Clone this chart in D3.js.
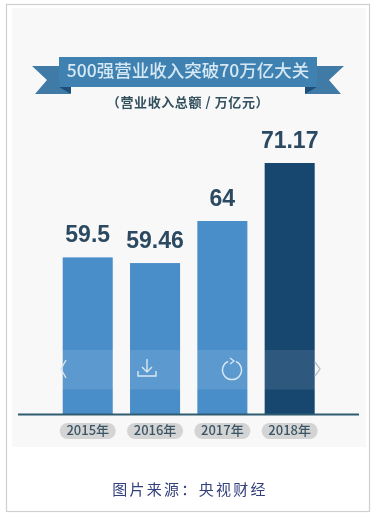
<!DOCTYPE html>
<html><head><meta charset="utf-8">
<script src="https://cdn.jsdelivr.net/npm/d3@7/dist/d3.min.js"></script>
<style>html,body{margin:0;padding:0;background:#fff}svg{display:block;filter:blur(.45px)}</style>
</head><body><svg id="c" width="376" height="519"></svg>
<script>
const categories = ["2015年","2016年","2017年","2018年"];
const valueLabels = ["59.5","59.46","64","71.17"];
// Bar levels as drawn in the picture (the 2016 bar is drawn a little shorter than its label says)
const barLevels = [59.5,58.8,64,71.17];
const barColors = ["#4a8ec9","#4a8ec9","#4a8ec9","#17466f"];
const titleText = "500强营业收入突破70万亿大关";
const subtitleText = "（营业收入总额 / 万亿元）";
const captionText = "图片来源：央视财经";
const CJK = "'Noto Sans CJK SC','Noto Sans',sans-serif";

const svg = d3.select("#c");
const x = d3.scaleBand().domain(categories).range([62.7,314.7]).paddingInner(0.2566).paddingOuter(0);
const y = d3.scaleLinear().domain([40.14,71.17]).range([414,163]);

// frame and panel
svg.append("rect").attr("x",6.5).attr("y",4.5).attr("width",363).attr("height",507).attr("fill","#fff").attr("stroke","#cfcfcf").attr("stroke-width",1.2);
svg.append("rect").attr("x",12).attr("y",8).attr("width",354).attr("height",439).attr("fill","#f8f8f8");

// ribbon
const rib = svg.append("g");
rib.append("path").attr("d","M32 66H70V94H35L47 80Z").attr("fill","#3f7ba6");
rib.append("path").attr("d","M344 66H305V94H341L329 80Z").attr("fill","#3f7ba6");
rib.append("path").attr("d","M59 87L71 94V87Z").attr("fill","#1f4f78");
rib.append("path").attr("d","M317 87L305 94V87Z").attr("fill","#1f4f78");
rib.append("rect").attr("x",59).attr("y",57).attr("width",258).attr("height",30).attr("fill","#3f82b2");
rib.append("text").attr("x",188).attr("y",77).attr("text-anchor","middle").attr("font-family",CJK).attr("font-size",17.5).attr("font-weight",500).attr("fill","#d6e8f3").text(titleText);
svg.append("text").attr("x",188).attr("y",107).attr("text-anchor","middle").attr("font-family",CJK).attr("font-size",13).attr("letter-spacing",0.6).attr("font-weight",700).attr("fill","#33505f").text(subtitleText);

// bars
const row = categories.map((c,i)=>({c,level:barLevels[i],label:valueLabels[i],color:barColors[i]}));
svg.selectAll("rect.bar").data(row).join("rect").attr("class","bar")
  .attr("x",d=>x(d.c)).attr("width",x.bandwidth())
  .attr("y",d=>y(d.level)).attr("height",d=>y.range()[0]-y(d.level))
  .attr("fill",d=>d.color);
svg.selectAll("text.val").data(row).join("text").attr("class","val")
  .attr("x",d=>x(d.c)+x.bandwidth()/2).attr("y",d=>y(d.level)-15)
  .attr("text-anchor","middle").attr("font-family","'Liberation Sans',Arial,sans-serif")
  .attr("font-size",23).attr("font-weight",700).attr("fill","#2b4a62").text(d=>d.label);

// viewer overlay band with icons
svg.append("rect").attr("x",12).attr("y",350).attr("width",354).attr("height",39.5).attr("fill","#fff").attr("opacity",.1);
const ic = svg.append("g").attr("fill","none").attr("stroke","#d7e8f5").attr("stroke-width",1.4);
ic.append("path").attr("d","M66 360L61 369L66 378").attr("stroke","#d9e6f0");
ic.append("path").attr("d","M315 362L320 369L315 376").attr("stroke","#b9c3cb");
ic.append("path").attr("d","M147 359V372M142 367L147 372L152 367M138 371V376H156V371");
ic.append("path").attr("d","M228 361.5A9.5 9.5 0 1 0 236 361.5").attr("stroke-width",1.5);
ic.append("path").attr("d","M230 358L234 361L230 364").attr("stroke-width",1.3);

// axis
const axis = svg.append("g").attr("transform","translate(0,414)").call(d3.axisBottom(x).tickSize(0).tickPadding(0));
axis.select(".domain").remove();
svg.insert("g",()=>axis.node()).selectAll("rect").data(categories).join("rect")
  .attr("x",d=>x(d)+x.bandwidth()/2-28).attr("y",423).attr("width",56).attr("height",16).attr("rx",8).attr("fill","#d4d4d4");
axis.selectAll("text").attr("y",20.5).attr("dy",0).attr("font-family",CJK).attr("font-size",13).attr("font-weight",500).attr("fill","#3a5566");
svg.append("line").attr("x1",18).attr("x2",359).attr("y1",414.5).attr("y2",414.5).attr("stroke","#2f5b70").attr("stroke-width",2);

// caption
svg.append("text").attr("x",190).attr("y",495).attr("text-anchor","middle").attr("font-family","'Noto Sans CJK SC',serif").attr("font-size",15).attr("letter-spacing",2.3).attr("fill","#34407c").text(captionText);
</script></body></html>
